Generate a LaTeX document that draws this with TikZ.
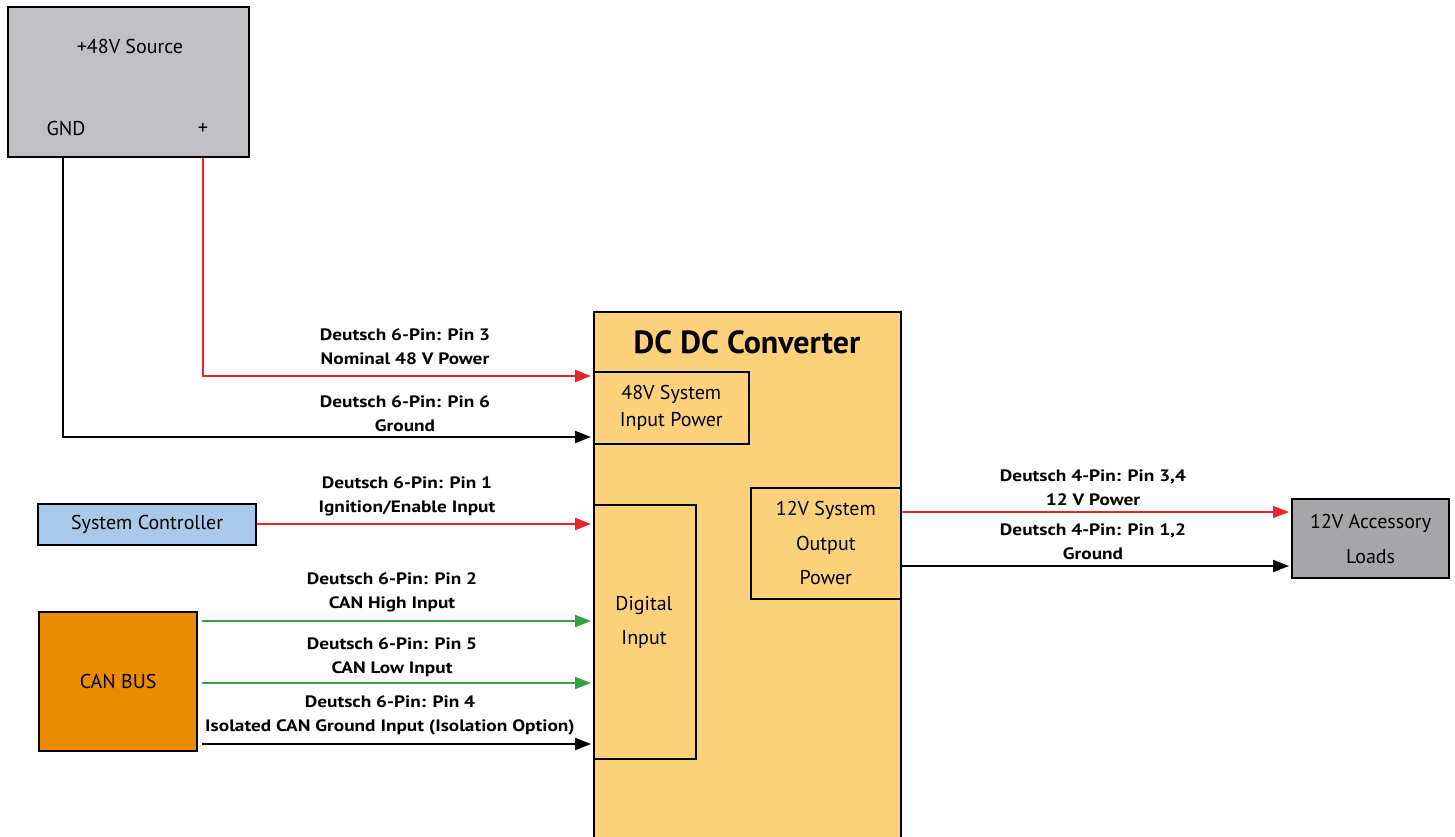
\documentclass[tikz,border=0pt]{standalone}
\usepackage{fontspec}
\setmainfont{PT Sans}
\newfontfamily\lblfont[FakeStretch=1.17]{PT Sans}
\usetikzlibrary{arrows.meta,calc}
\definecolor{srcgray}{HTML}{C0C0C2}
\definecolor{convfill}{HTML}{FDD17B}
\definecolor{ctrlblue}{HTML}{A9C9EA}
\definecolor{canorange}{HTML}{EA8B00}
\definecolor{loadgray}{HTML}{A6A6A8}
\definecolor{wirered}{HTML}{E8262A}
\definecolor{wiregreen}{HTML}{34A048}
\tikzset{
  blk/.style={draw=black,line width=2.2pt,inner sep=0pt,anchor=north west},
  sub/.style={draw=black,line width=1.6pt,inner sep=0pt,anchor=north west},
  boxtxt/.style={font=\fontsize{20}{24}\selectfont,align=center},
  lbl/.style={font=\lblfont\bfseries\fontsize{16.5}{24}\selectfont,align=center},
  wire/.style={line width=2pt,-{Triangle[length=16pt,width=12pt]},shorten >=2pt},
  redw/.style={wire,draw=wirered,color=wirered},
  greenw/.style={wire,draw=wiregreen,color=wiregreen},
  blackw/.style={wire,draw=black},
}
\begin{document}
\begin{tikzpicture}[x=1pt,y=-1pt]
\useasboundingbox (0,0) rectangle (1455,837);
% source
\node[blk,fill=srcgray,minimum width=241pt,minimum height=150pt] (src) at (7,6) {};
\node[boxtxt] (srctitle) at (130,47) {+48V Source};
\node[boxtxt] (gndlbl) at (66,129) {GND};
\node[boxtxt] (pluslbl) at (203,129) {+};
% converter
\node[blk,fill=convfill,minimum width=307pt,minimum height=530pt] (conv) at (593,311) {};
\node[font=\bfseries\fontsize{32}{36}\selectfont] (convtitle) at (747,342) {DC DC Converter};
\node[sub,fill=convfill,minimum width=155pt,minimum height=72pt,boxtxt,font=\fontsize{20}{27}\selectfont] (inpw) at (593,371) {48V System\\Input Power};
\node[sub,fill=convfill,minimum width=102pt,minimum height=254pt] (digin) at (593,504) {};
\node[boxtxt,font=\fontsize{20}{34}\selectfont] (digintxt) at (644,622) {Digital\\Input};
\node[sub,fill=convfill,minimum width=150pt,minimum height=111pt,boxtxt,font=\fontsize{20}{34.5}\selectfont] (outpw) at (750,487) {12V System\\Output\\Power};
% others
\node[blk,fill=ctrlblue,minimum width=218pt,minimum height=41pt,boxtxt] (ctrl) at (37,503) {System Controller};
\node[blk,fill=canorange,minimum width=158pt,minimum height=139pt,boxtxt] (can) at (38,611) {CAN BUS};
\node[blk,fill=loadgray,minimum width=157pt,minimum height=79pt,boxtxt,font=\fontsize{20}{35}\selectfont] (loads) at (1291,498) {12V Accessory\\Loads};
% wires
\draw[redw] (pluslbl |- src.south) |- (conv.west |- 0,376);
\draw[blackw] (src.south -| 63,0) |- (conv.west |- 0,437);
\draw[redw] (ctrl.east |- 0,524) -- (conv.west |- 0,524);
\draw[greenw] (can.east |- 0,621) ++(4,0) -- (conv.west |- 0,621);
\draw[greenw] (can.east |- 0,683) ++(4,0) -- (conv.west |- 0,683);
\draw[blackw] (can.east |- 0,744) ++(4,0) -- (conv.west |- 0,744);
\draw[redw] (conv.east |- 0,512) -- (loads.west |- 0,512);
\draw[blackw] (conv.east |- 0,566) -- (loads.west |- 0,566);
% labels
\node[lbl] (l1) at (405,347) {Deutsch 6-Pin: Pin 3\\Nominal 48 V Power};
\node[lbl] (l2) at (405,414) {Deutsch 6-Pin: Pin 6\\Ground};
\node[lbl] (l3) at (407,496) {Deutsch 6-Pin: Pin 1\\Ignition/Enable Input};
\node[lbl] (l4) at (392,592) {Deutsch 6-Pin: Pin 2\\CAN High Input};
\node[lbl] (l5) at (392,657) {Deutsch 6-Pin: Pin 5\\CAN Low Input};
\node[lbl] (l6) at (390,715) {Deutsch 6-Pin: Pin 4\\Isolated CAN Ground Input (Isolation Option)};
\node[lbl] (l7) at (1093,488) {Deutsch 4-Pin: Pin 3,4\\12 V Power};
\node[lbl] (l8) at (1093,542) {Deutsch 4-Pin: Pin 1,2\\Ground};
\end{tikzpicture}
\end{document}
